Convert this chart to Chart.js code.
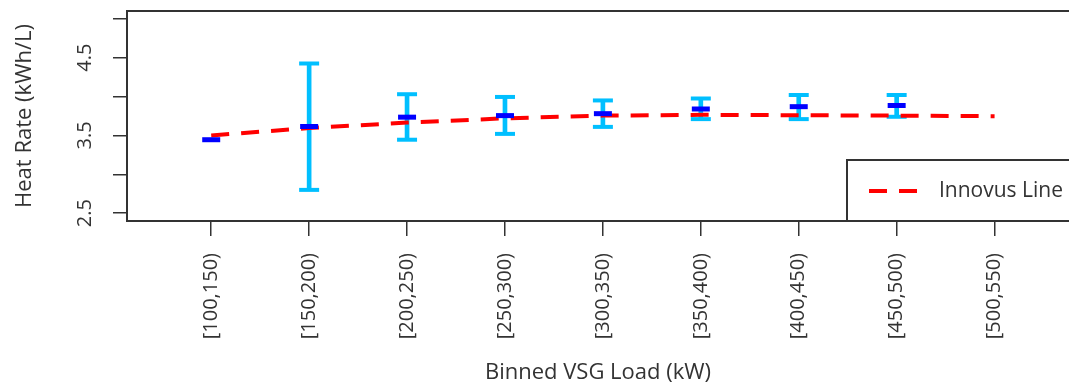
<!DOCTYPE html>
<html>
<head>
<meta charset="utf-8">
<script src="https://cdn.jsdelivr.net/npm/chart.js@4.4.1/dist/chart.umd.min.js"></script>
<style>
  html, body { margin: 0; padding: 0; background: #fff; overflow: hidden; }
  #wrap { width: 1069px; height: 386px; }
</style>
</head>
<body>
<div id="wrap"><canvas id="heat-chart"></canvas></div>
<script>
/*==================== data ====================*/
// x axis bins
const bins = ["[100,150)", "[150,200)", "[200,250)", "[250,300)", "[300,350)",
              "[350,400)", "[400,450)", "[450,500)", "[500,550)"];
// mean heat rate per bin (blue marks)
const meanRate = [3.445, 3.615, 3.735, 3.755, 3.78, 3.84, 3.87, 3.885, null];
// error bar ends (cyan)
const lowRate  = [null, 2.80, 3.445, 3.52, 3.61, 3.71, 3.71, 3.74, null];
const highRate = [null, 4.425, 4.03, 3.995, 3.95, 3.975, 4.02, 4.02, null];
// Innovus line (red dashed)
const innovus  = [3.50, 3.595, 3.665, 3.72, 3.755, 3.765, 3.76, 3.755, 3.748];
// y axis ticks
const yTicks = [2.5, 3, 3.5, 4, 4.5, 5];
const yTickLabels = [2.5, 3.5, 4.5];

const FONT = "'Open Sans', sans-serif";
const INK = "#333333";
const RED = "#ff0000";
const CYAN = "#00bfff";
const BLUE = "#0000ff";

function pts(values) {
    return values.map((v, i) => ({ x: i + 1, y: v })).filter(p => p.y !== null);
}

const whiskers = bins.map((b, i) => ({ x: i + 1, y: [lowRate[i], highRate[i]] }))
                     .filter((p, i) => p.y[0] !== null && p.y[1] !== null);

// top edge of the box, rotated y labels and the legend box (R style)
const frameAndLegend = {
    id: "frameAndLegend",
    afterDraw(chart) {
        const { ctx, chartArea: a, scales: { y } } = chart;
        ctx.save();
        ctx.strokeStyle = INK;
        ctx.lineWidth = 2;
        ctx.beginPath();
        ctx.moveTo(a.left, a.top);
        ctx.lineTo(a.right, a.top);
        ctx.stroke();

        ctx.fillStyle = INK;
        ctx.font = "20px " + FONT;
        ctx.textAlign = "center";
        ctx.textBaseline = "middle";
        yTickLabels.forEach(v => {
            ctx.save();
            ctx.translate(a.left - 42, y.getPixelForValue(v));
            ctx.rotate(-Math.PI / 2);
            ctx.fillText(v.toFixed(1), 0, 0);
            ctx.restore();
        });

        // legend
        const lx = a.right - 222, ly = a.bottom - 61;
        ctx.fillStyle = "#fff";
        ctx.fillRect(lx, ly, 260, 61);
        ctx.strokeRect(lx, ly, 260, 61);
        ctx.strokeStyle = RED;
        ctx.lineWidth = 4;
        ctx.setLineDash([18, 12]);
        ctx.beginPath();
        ctx.moveTo(lx + 22, ly + 31);
        ctx.lineTo(lx + 70, ly + 31);
        ctx.stroke();
        ctx.setLineDash([]);
        ctx.fillStyle = INK;
        ctx.font = "21px " + FONT;
        ctx.textAlign = "left";
        ctx.fillText("Innovus Line", lx + 92, ly + 31);
        ctx.restore();
    }
};

new Chart(document.getElementById("heat-chart"), {
    type: "line",
    data: {
        datasets: [{
            type: "line",
            label: "mean",
            data: pts(meanRate),
            showLine: false,
            pointStyle: "line",
            pointRadius: 9,
            pointBorderWidth: 5,
            pointBorderColor: BLUE,
            borderColor: BLUE,
            order: 0
        }, {
            type: "line",
            label: "Innovus Line",
            data: pts(innovus),
            borderColor: RED,
            borderWidth: 4,
            borderDash: [18, 12],
            pointRadius: 0,
            fill: false,
            tension: 0,
            order: 1
        }, {
            type: "line",
            label: "caps",
            data: pts(lowRate).concat(pts(highRate)),
            showLine: false,
            pointStyle: "line",
            pointRadius: 10,
            pointBorderWidth: 4,
            pointBorderColor: CYAN,
            borderColor: CYAN,
            order: 2
        }, {
            type: "bar",
            label: "range",
            data: whiskers,
            backgroundColor: CYAN,
            barThickness: 4,
            grouped: false,
            order: 3
        }]
    },
    options: {
        responsive: true,
        maintainAspectRatio: false,
        animation: false,
        layout: { autoPadding: false, padding: { top: 11, left: 0, right: 0, bottom: 0 } },
        plugins: {
            legend: { display: false },
            tooltip: { enabled: false }
        },
        scales: {
            x: {
                type: "linear",
                min: 0.14,
                max: 9.76,
                offset: false,
                afterBuildTicks: s => { s.ticks = bins.map((b, i) => ({ value: i + 1 })); },
                afterFit: s => { s.height = 165; s.paddingLeft = 0; s.paddingRight = 0; },
                grid: { offset: false, drawOnChartArea: false, drawTicks: true, tickLength: 15, color: INK, lineWidth: 1.5 },
                border: { display: true, color: INK, width: 2 },
                ticks: {
                    minRotation: 90,
                    maxRotation: 90,
                    padding: 17,
                    autoSkip: false,
                    color: INK,
                    font: { family: FONT, size: 20 },
                    callback: v => bins[v - 1]
                },
                title: {
                    display: true,
                    text: "Binned VSG Load (kW)",
                    color: INK,
                    font: { family: FONT, size: 22 },
                    padding: { top: 0, bottom: 0 }
                }
            },
            y: {
                min: 2.4,
                max: 5.1,
                afterBuildTicks: s => { s.ticks = yTicks.map(v => ({ value: v })); },
                afterFit: s => { s.width = 127; s.paddingTop = 0; s.paddingBottom = 0; },
                grid: { drawOnChartArea: false, drawTicks: true, tickLength: 14, color: INK, lineWidth: 1.5 },
                border: { display: true, color: INK, width: 2 },
                ticks: { display: false },
                title: {
                    display: true,
                    text: "Heat Rate (kWh/L)",
                    color: INK,
                    font: { family: FONT, size: 22 },
                    padding: { top: 12, bottom: 0 }
                }
            }
        }
    },
    plugins: [frameAndLegend]
});
</script>
</body>
</html>
